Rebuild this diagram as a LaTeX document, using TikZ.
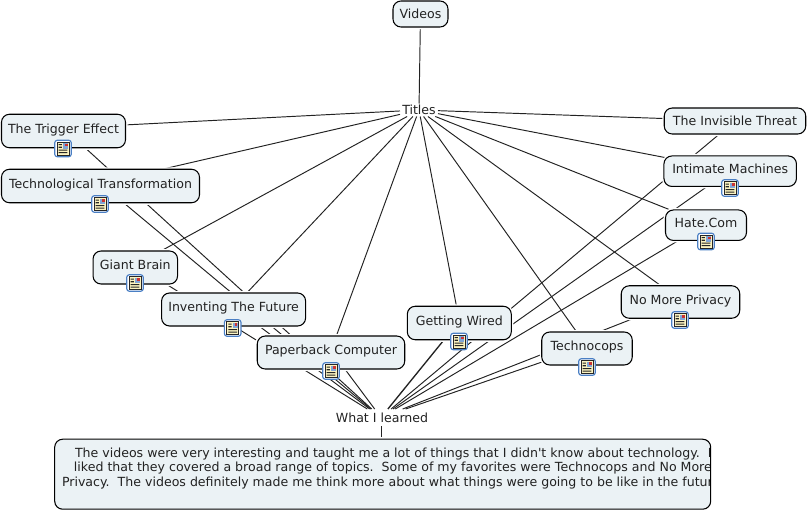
\documentclass[tikz,border=0pt]{standalone}
\usepackage{fontspec}
\newfontfamily\vfont{DejaVu Sans}
\usetikzlibrary{backgrounds}
\definecolor{boxfill}{HTML}{EBF2F5}
\definecolor{inkc}{HTML}{222222}
\definecolor{iconblue}{HTML}{4A7FC4}
\definecolor{iconpage}{HTML}{FBF3C0}
\tikzset{
  x=0.75pt,y=-0.75pt,
  every node/.style={font=\vfont\fontsize{9.43pt}{11pt}\selectfont,text=inkc,inner sep=0pt,outer sep=0pt},
  cbox/.style 2 args={draw=black,fill=boxfill,line width=0.8pt,rounded corners=6pt,
    minimum width=#1*0.75pt,minimum height=#2*0.75pt,text height=7pt,text depth=1pt,
    preaction={draw=white,line width=3pt}},
  tbox/.style={text depth=4pt},
  plain/.style 2 args={minimum width=#1*0.75pt,minimum height=#2*0.75pt},
  link/.style={draw=inkc,line width=0.72pt},
  para/.style={anchor=base west},
  doc/.pic={
    \draw[iconblue,fill=white,line width=0.85pt,rounded corners=2pt] (-8.3,-8.3) rectangle (8.3,8.3);
    \draw[black!85,fill=iconpage,line width=0.6pt] (-6,-6.5) rectangle (6,6.5);
    \fill[black!85] (-4.3,-4.5) rectangle (-1.2,-3.4) (-4.3,-1.8) rectangle (-1.2,-0.7) (-4.3,1) rectangle (4.3,2.1) (-4.3,3.6) rectangle (4.3,4.7);
    \fill[iconblue!70] (0,-5.5) rectangle (5,0);
    \fill[red!60!gray] (2,-5) rectangle (4.5,-2.5);
  }
}
\begin{document}
\begin{tikzpicture}
\useasboundingbox (0,0) rectangle (808,511);
% concept nodes
\node[cbox={55}{26}] (videos) at (420.5,14) {Videos};
\node[plain={38}{13}] (titles) at (419,110) {Titles};
\node[cbox={124}{33.5},tbox] (trigger) at (63.5,131) {The Trigger Effect};
\node[cbox={198}{33.5},tbox] (techtrans) at (100.5,186) {Technological Transformation};
\node[cbox={84.5}{33},tbox] (giant) at (135.3,267.5) {Giant Brain};
\node[cbox={144}{33},tbox] (inventing) at (233.6,309.5) {Inventing The Future};
\node[cbox={147.5}{33},tbox] (paperback) at (331,352.5) {Paperback Computer};
\node[cbox={104}{33.5},tbox] (wired) at (459.3,323) {Getting Wired};
\node[cbox={90.5}{33},tbox] (technocops) at (587,348.5) {Technocops};
\node[cbox={118.5}{32.5},tbox] (privacy) at (680.5,302) {No More Privacy};
\node[cbox={141.5}{26}] (threat) at (735,121) {The Invisible Threat};
\node[cbox={132.5}{30.5},tbox] (intimate) at (730.2,171.2) {Intimate Machines};
\node[cbox={81}{30.5},tbox] (hate) at (706,225.2) {Hate.Com};
\begin{scope}
  \clip (330,405) rectangle (427,430);
  \node[plain={92}{17},align=left] (learned) at (381,417.5) {\hspace*{1.5pt}What I learned};
\end{scope}
\node[cbox={656}{70}] (desc) at (382.7,474.2) {};
\begin{scope}
  \clip[rounded corners=6pt] (54.7,439.3) rectangle (709.5,509);
  \node[para] (line1) at (75,457) {The videos were very interesting and taught me a lot of things that I didn't know about technology.~~I};
  \node[para] (line2) at (74,471.5) {liked that they covered a broad range of topics.~~Some of my favorites were Technocops and No More};
  \node[para] (line3) at (62,486) {Privacy.~~The videos definitely made me think more about what things were going to be like in the future.};
\end{scope}
% document icons
\pic at (63,148.5) {doc};
\pic at (100,204) {doc};
\pic at (135,283) {doc};
\pic at (232.7,328) {doc};
\pic at (331,371) {doc};
\pic at (459,341.5) {doc};
\pic at (587,367) {doc};
\pic at (680,320) {doc};
\pic at (730,188) {doc};
\pic at (706,241.5) {doc};
% connectors
\begin{scope}[on background layer]
  \draw[link] (videos) -- (titles);
  \draw[link] (titles) -- ([yshift=2.2pt]trigger.center);
  \draw[link] (titles) -- ([yshift=1.9pt]techtrans.center);
  \draw[link] (titles) -- ([yshift=1.9pt]giant.center);
  \draw[link] (titles) -- ([yshift=1.9pt]inventing.center);
  \draw[link] (titles) -- ([yshift=1.5pt]paperback.center);
  \draw[link] (titles) -- ([yshift=1.5pt]wired.center);
  \draw[link] (titles) -- ([yshift=1.5pt]technocops.center);
  \draw[link] (titles) -- ([yshift=1.5pt]privacy.center);
  \draw[link] (titles) -- (threat.center);
  \draw[link] (titles) -- ([yshift=0.8pt]intimate.center);
  \draw[link] (titles) -- ([yshift=0.8pt]hate.center);
  \draw[link] ([yshift=2.2pt]trigger.center) -- (learned);
  \draw[link] ([yshift=1.9pt]techtrans.center) -- (learned);
  \draw[link] ([yshift=1.9pt]giant.center) -- (learned);
  \draw[link] ([yshift=1.9pt]inventing.center) -- (learned);
  \draw[link] ([yshift=1.5pt]paperback.center) -- (learned);
  \draw[link,line width=1pt] ([yshift=1.5pt]wired.center) -- (learned);
  \draw[link] ([yshift=1.5pt]technocops.center) -- (learned);
  \draw[link] ([yshift=1.5pt]privacy.center) -- (learned);
  \draw[link] (threat.center) -- (learned);
  \draw[link] ([yshift=0.8pt]intimate.center) -- (learned);
  \draw[link] ([yshift=0.8pt]hate.center) -- (learned);
  \draw[link] (learned.south) -- (learned.south |- desc.north);
\end{scope}
\end{tikzpicture}
\end{document}
